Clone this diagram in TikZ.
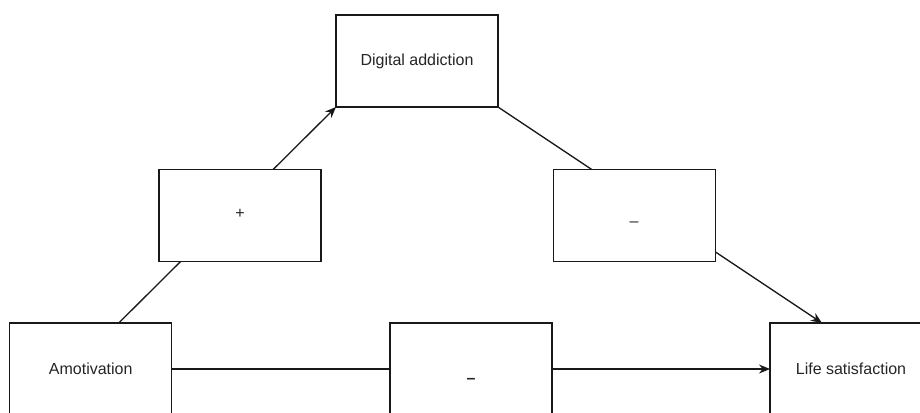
\documentclass[tikz,border=0pt]{standalone}
\usepackage{fontspec}
\setmainfont{Liberation Sans}
\usetikzlibrary{arrows.meta,backgrounds}

\begin{document}
\begin{tikzpicture}[x=1pt,y=-1pt,
  box/.style={draw=black!90, line width=1.3pt, fill=white, rectangle,
    minimum width=162pt, minimum height=92pt, inner sep=0pt, outer sep=0pt,
    text=black!85, font=\fontsize{16}{19}\selectfont},
  sign/.style={text=black!85, font=\fontsize{16}{19}\selectfont},
  conn/.style={draw=black!90, line width=1.3pt},
  arr/.style={conn, -{Stealth[length=11pt,width=9pt]}}
]
\useasboundingbox (0,0) rectangle (920,412);

% variables
\node[box] (amo)  at (90.75,369) {Amotivation};
\node[box] (dig)  at (417,61)    {Digital addiction};
\node[box] (life) at (851,369)   {Life satisfaction};

% path signs, sitting on the connectors
\node[box] (pos)  at (240,215.5) {};
\node[box] (negr) at (634.5,215.5) {};
\node[box] (negm) at (471,369) {};
\node[sign] (possign)  at (240,214) {+};
\node[sign] (negrsign) at (634,224) {–};
\node[sign, font=\fontsize{16}{19}\selectfont\bfseries] (negmsign) at (471,381) {–};

\begin{scope}[on background layer]
  \fill[white] (0,0) rectangle (920,412);
  \draw[arr] ([xshift=28pt]amo.north) -- (dig.south west);
  \draw[arr] (dig.south east) -- ([xshift=-29pt]life.north);
  \draw[arr] (amo.east) -- (life.west);
\end{scope}
\end{tikzpicture}
\end{document}
